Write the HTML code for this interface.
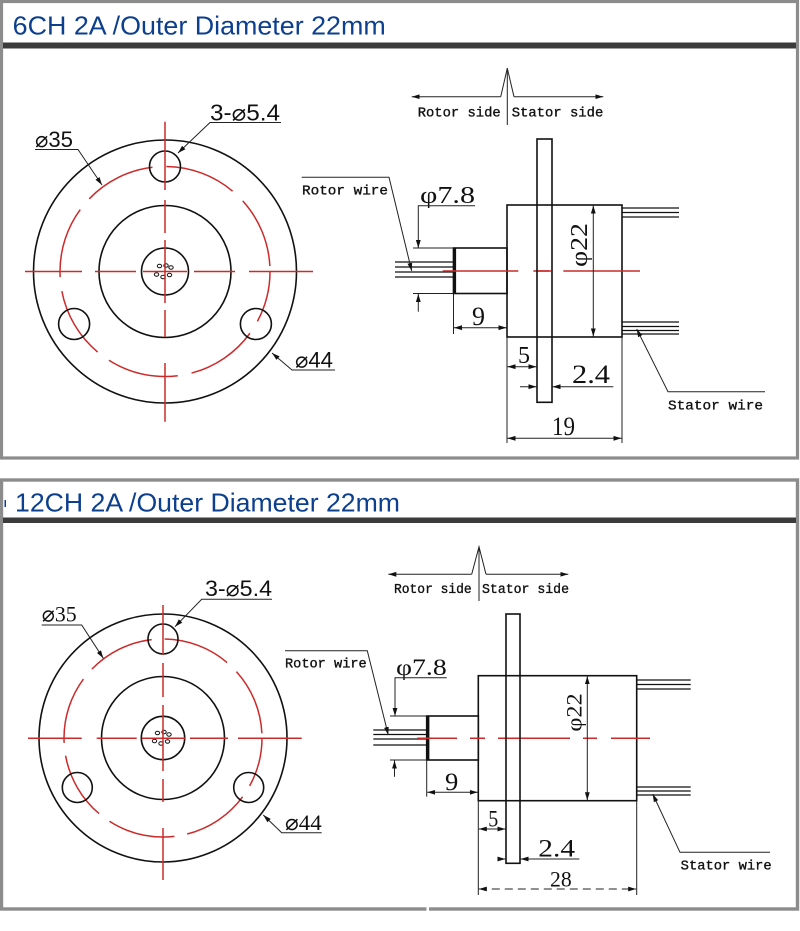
<!DOCTYPE html>
<html><head><meta charset="utf-8"><style>
html,body{margin:0;padding:0;background:#fff;}
svg{display:block;}
.o{fill:none;stroke:#111;stroke-width:1.6}
.d{fill:none;stroke:#222;stroke-width:1}
.r{fill:none;stroke:#cc2a2a;stroke-width:1.5}
.w{fill:none;stroke:#111;stroke-width:1.3}
.mono{font-family:"Liberation Mono",monospace;fill:#111;stroke:#111;stroke-width:0.35}
.ser{font-family:"Liberation Serif","DejaVu Serif",serif;fill:#111}
.sans{font-family:"Liberation Sans","DejaVu Sans",sans-serif;fill:#111}
.hd{font-family:"Liberation Sans",sans-serif;fill:#0d3f8f}
</style></head><body>
<svg width="800" height="931" viewBox="0 0 800 931" xmlns="http://www.w3.org/2000/svg">
<defs>
<marker id="a" markerUnits="userSpaceOnUse" markerWidth="10" markerHeight="6" refX="8" refY="3" orient="auto-start-reverse">
<path d="M0,0.6 L8,3 L0,5.4 z" fill="#111"/></marker>
</defs>
<rect x="0" y="0" width="800" height="931" fill="#fff"/>

<!-- ===== Panel 1 frame ===== -->
<rect x="1.5" y="1.5" width="796" height="456.5" fill="none" stroke="#8c8c8c" stroke-width="3.2"/>
<rect x="3" y="42.5" width="793" height="6" fill="#3b3b3b"/>
<text class="hd" x="12.7" y="34.5" font-size="26" textLength="373" lengthAdjust="spacingAndGlyphs">6CH 2A /Outer Diameter 22mm</text>

<!-- Panel 1 circle view -->
<circle class="o" cx="165" cy="271.5" r="131.5"/>
<circle class="r" cx="165" cy="271.5" r="105" stroke-dasharray="72 14" stroke-dashoffset="20"/>
<circle class="o" cx="165" cy="271.5" r="66"/>
<circle class="o" cx="165" cy="271.5" r="23.5"/>
<circle class="o" cx="165" cy="166.5" r="15.5"/>
<circle class="o" cx="74.1" cy="324" r="15.5"/>
<circle class="o" cx="255.9" cy="324" r="15.5"/>
<g fill="none" stroke="#111" stroke-width="1">
<ellipse cx="159.5" cy="266" rx="2.2" ry="1.7"/><ellipse cx="166" cy="265.5" rx="2.2" ry="1.7"/>
<ellipse cx="171" cy="267.5" rx="2.2" ry="1.7"/><ellipse cx="156.5" cy="274.5" rx="2.2" ry="1.7"/>
<ellipse cx="163" cy="277" rx="2.2" ry="1.7"/><ellipse cx="169.5" cy="275" rx="2.2" ry="1.7"/>
</g>
<path class="r" d="M25,271.5H82M95,271.5H136M143,271.5H187M194,271.5H235M249,271.5H313"/>
<path class="r" d="M165,121.7V190M165,200V233M165,240V303M165,310V337M165,363V421.7"/>
<!-- labels -->
<text class="sans" x="210" y="120.5" font-size="23" textLength="70" lengthAdjust="spacingAndGlyphs">3-⌀5.4</text>
<path class="d" d="M281,122.5H210L178,153" marker-end="url(#a)"/>
<text class="sans" x="35" y="147" font-size="22" textLength="38" lengthAdjust="spacingAndGlyphs">⌀35</text>
<path class="d" d="M35,149.5H78L102,185" marker-end="url(#a)"/>
<text class="sans" x="295" y="367.5" font-size="22" textLength="38" lengthAdjust="spacingAndGlyphs">⌀44</text>
<path class="d" d="M335,370H292L272,353" marker-end="url(#a)"/>

<!-- Panel 1 side view -->
<path class="d" d="M500.7,96.7L507.3,68.3L514,96.7" stroke-width="1.4"/>
<path class="d" d="M500.7,96.7H411.7" marker-end="url(#a)" stroke-width="1.4"/>
<path class="d" d="M514,96.7H603.3" marker-end="url(#a)" stroke-width="1.4"/>
<path class="d" d="M507.3,68.3V125" stroke-width="1.4"/>
<text class="mono" x="417.7" y="116.5" font-size="14" textLength="83" lengthAdjust="spacingAndGlyphs">Rotor side</text>
<text class="mono" x="511.7" y="116.5" font-size="14" textLength="91.6" lengthAdjust="spacingAndGlyphs">Stator side</text>

<!-- wires -->
<path class="w" d="M395,262H453M395,267H453M395,272H453M395,277H453"/>
<path class="w" d="M622,208H679M622,212.5H679M622,217H679"/>
<path class="w" d="M622,322H679M622,326.5H679M622,330.5H679M622,334H679"/>
<!-- body -->
<rect class="o" x="507" y="205" width="115" height="132" fill="#fff"/>
<rect class="o" x="453.5" y="248" width="53.5" height="45.5" fill="#fff"/>
<path d="M454.5,248V293.5" stroke="#111" stroke-width="3.2"/>
<path class="r" d="M442.7,271H518.3M533.3,271H549.3M563.3,271H640"/>
<rect class="o" x="537" y="139" width="15" height="263.3" fill="#fff"/>
<path class="r" d="M537.8,271H551.2"/>

<!-- phi7.8 -->
<text class="ser" x="420" y="203" font-size="24" textLength="55" lengthAdjust="spacingAndGlyphs">φ7.8</text>
<path class="d" d="M475,205.7H418.3V248" marker-end="url(#a)"/>
<path class="d" d="M413,248H453.5M413,293.5H453.5"/>
<path class="d" d="M418.3,311.7V294" marker-end="url(#a)"/>
<!-- 9 -->
<text class="ser" x="472" y="325" font-size="26" textLength="13" lengthAdjust="spacingAndGlyphs">9</text>
<path class="d" d="M453.5,293.5V334"/>
<path class="d" d="M454,327.7H506.5" marker-start="url(#a)" marker-end="url(#a)"/>
<!-- 5 -->
<path class="d" d="M507,337V443M622,337V443"/>
<text class="ser" x="518" y="363" font-size="24" textLength="12" lengthAdjust="spacingAndGlyphs">5</text>
<path class="d" d="M507.5,366.7H536.5" marker-start="url(#a)" marker-end="url(#a)"/>
<!-- 2.4 -->
<text class="ser" x="572" y="383" font-size="26" textLength="38" lengthAdjust="spacingAndGlyphs">2.4</text>
<path class="d" d="M520,386.7H536.5" marker-end="url(#a)"/>
<path class="d" d="M613.3,386.7H552.5" marker-end="url(#a)"/>
<!-- 19 -->
<text class="ser" x="552" y="435" font-size="26" textLength="23" lengthAdjust="spacingAndGlyphs">19</text>
<path class="d" d="M507.5,438.3H621.5" marker-start="url(#a)" marker-end="url(#a)"/>
<!-- phi22 -->
<path class="d" d="M593.3,205.5V336.5" marker-start="url(#a)" marker-end="url(#a)"/>
<text class="ser" transform="translate(587,245) rotate(-90)" x="0" y="0" font-size="24" text-anchor="middle" textLength="44" lengthAdjust="spacingAndGlyphs">φ22</text>
<!-- wire labels -->
<text class="mono" x="302" y="194.5" font-size="14" textLength="86" lengthAdjust="spacingAndGlyphs">Rotor wire</text>
<path class="d" d="M301.7,177.3H389L411.7,271" marker-end="url(#a)"/>
<text class="mono" x="668" y="409.5" font-size="14" textLength="95" lengthAdjust="spacingAndGlyphs">Stator wire</text>
<path class="d" d="M765,391.7H668L636.7,329" marker-end="url(#a)"/>

<!-- ===== Panel 2 frame ===== -->
<rect x="1.5" y="480" width="796" height="429" fill="none" stroke="#8c8c8c" stroke-width="3.4"/>
<rect x="3" y="517.5" width="793" height="5.5" fill="#3b3b3b"/>
<rect x="426.5" y="906" width="2.5" height="6" fill="#fff"/>
<rect x="4.5" y="500" width="1.5" height="7" fill="#0d3f8f"/>
<text class="hd" x="15" y="511.5" font-size="26" textLength="385" lengthAdjust="spacingAndGlyphs">12CH 2A /Outer Diameter 22mm</text>

<!-- Panel 2 circle view -->
<circle class="o" cx="163" cy="738" r="124"/>
<circle class="r" cx="163" cy="738" r="99" stroke-dasharray="68 13" stroke-dashoffset="18"/>
<circle class="o" cx="163" cy="738" r="61.5"/>
<circle class="o" cx="163" cy="738" r="21.7"/>
<circle class="o" cx="163" cy="639" r="15"/>
<circle class="o" cx="77.3" cy="787.5" r="15"/>
<circle class="o" cx="248.7" cy="787.5" r="15"/>
<g fill="none" stroke="#111" stroke-width="1">
<ellipse cx="157.5" cy="733" rx="2.2" ry="1.7"/><ellipse cx="164" cy="732" rx="2.2" ry="1.7"/>
<ellipse cx="169" cy="734.5" rx="2.2" ry="1.7"/><ellipse cx="154.5" cy="741" rx="2.2" ry="1.7"/>
<ellipse cx="161" cy="743.5" rx="2.2" ry="1.7"/><ellipse cx="167.5" cy="741.5" rx="2.2" ry="1.7"/>
</g>
<path class="r" d="M28,738.3H81.7M96.7,738.3H136.7M141.7,738.3H185M190,738.3H228M238,738.3H301.7"/>
<path class="r" d="M163,605V655M163,663V697M163,705V771M163,779V802M163,828V880"/>
<text class="sans" x="205" y="596" font-size="22" textLength="67" lengthAdjust="spacingAndGlyphs">3-⌀5.4</text>
<path class="d" d="M272,599.3H201.7L175,626.7" marker-end="url(#a)"/>
<text class="ser" x="41.7" y="621.5" font-size="22" textLength="35" lengthAdjust="spacingAndGlyphs">⌀35</text>
<path class="d" d="M41.7,625H81.7L103.3,658.3" marker-end="url(#a)"/>
<text class="ser" x="285" y="830" font-size="22" textLength="36.7" lengthAdjust="spacingAndGlyphs">⌀44</text>
<path class="d" d="M321.7,832.7H281.7L263.3,815" marker-end="url(#a)"/>

<!-- Panel 2 side view -->
<path class="d" d="M471.7,574.3L479,546.7L486,574.3" stroke-width="1.4"/>
<path class="d" d="M471.7,574.3H388.3" marker-end="url(#a)" stroke-width="1.4"/>
<path class="d" d="M486,574.3H568.3" marker-end="url(#a)" stroke-width="1.4"/>
<path class="d" d="M479,546.7V601" stroke-width="1.4"/>
<text class="mono" x="394" y="593" font-size="13.5" textLength="77.7" lengthAdjust="spacingAndGlyphs">Rotor side</text>
<text class="mono" x="482" y="593" font-size="13.5" textLength="87" lengthAdjust="spacingAndGlyphs">Stator side</text>

<path class="w" d="M373.3,730H426.7M373.3,734.5H426.7M373.3,739H426.7M373.3,745H426.7"/>
<path class="w" d="M636.7,680H690.7M636.7,684.5H690.7M636.7,689H690.7"/>
<path class="w" d="M636.7,787H690.7M636.7,791H690.7M636.7,795H690.7"/>
<rect class="o" x="478.3" y="675.7" width="158.4" height="125" fill="#fff"/>
<rect class="o" x="426.7" y="716" width="51.6" height="44" fill="#fff"/>
<path d="M427.8,716V760" stroke="#111" stroke-width="3.2"/>
<path class="r" d="M417,738.3H457M470,738.3H485M498,738.3H570M583,738.3H597M611,738.3H650"/>
<rect class="o" x="506" y="614" width="14" height="249.3" fill="#fff"/>
<path class="r" d="M506.8,738.3H519.2"/>

<text class="ser" x="396" y="675" font-size="23" textLength="50.7" lengthAdjust="spacingAndGlyphs">φ7.8</text>
<path class="d" d="M446.7,677.7H395V716" marker-end="url(#a)"/>
<path class="d" d="M390,716H426.7M390,760H426.7"/>
<path class="d" d="M394.5,776.7V760.5" marker-end="url(#a)"/>
<text class="ser" x="445" y="790" font-size="25" textLength="13.3" lengthAdjust="spacingAndGlyphs">9</text>
<path class="d" d="M426.7,760V796.7"/>
<path class="d" d="M427.2,792.3H477.8" marker-start="url(#a)" marker-end="url(#a)"/>
<path class="d" d="M478.3,800.7V895M636.7,800.7V895"/>
<text class="ser" x="488.3" y="826.5" font-size="23" textLength="10" lengthAdjust="spacingAndGlyphs">5</text>
<path class="d" d="M478.8,829H505.5" marker-start="url(#a)" marker-end="url(#a)"/>
<text class="ser" x="538.3" y="856.5" font-size="25" textLength="36.7" lengthAdjust="spacingAndGlyphs">2.4</text>
<path class="d" d="M498.3,859H505.5" marker-end="url(#a)"/>
<path class="d" d="M579.3,859H520.5" marker-end="url(#a)"/>
<text class="ser" x="550" y="886.5" font-size="22" textLength="21.7" lengthAdjust="spacingAndGlyphs">28</text>
<path class="d" d="M478.8,889H636.2" stroke-dasharray="8 5" marker-start="url(#a)" marker-end="url(#a)"/>
<path class="d" d="M587.3,676.2V800.2" marker-start="url(#a)" marker-end="url(#a)"/>
<text class="ser" transform="translate(581.5,712.5) rotate(-90)" x="0" y="0" font-size="22" text-anchor="middle" textLength="38.4" lengthAdjust="spacingAndGlyphs">φ22</text>
<text class="mono" x="285" y="667.5" font-size="13.5" textLength="81.7" lengthAdjust="spacingAndGlyphs">Rotor wire</text>
<path class="d" d="M285,650.7H367.3L388.3,735" marker-end="url(#a)"/>
<text class="mono" x="680.7" y="869.5" font-size="13.5" textLength="91" lengthAdjust="spacingAndGlyphs">Stator wire</text>
<path class="d" d="M770,852.3H680L652.7,794" marker-end="url(#a)"/>
</svg>
</body></html>
